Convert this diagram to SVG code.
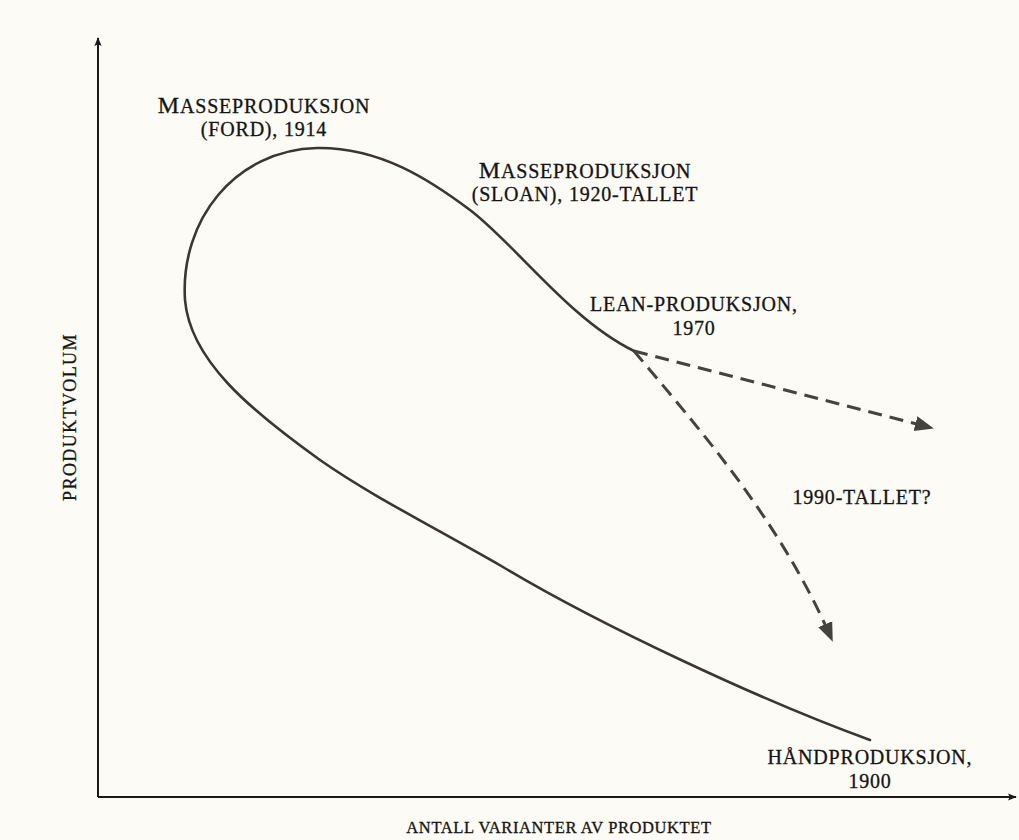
<svg xmlns="http://www.w3.org/2000/svg" width="1019" height="840" viewBox="0 0 1019 840">
  <defs>
    <marker id="axisHead" viewBox="0 0 10 10" refX="9" refY="5" markerWidth="9" markerHeight="9" markerUnits="userSpaceOnUse" orient="auto">
      <path d="M0,1 L10,5 L0,9 L2,5 Z" fill="#1a1a1a"/>
    </marker>
    <marker id="dashHead" viewBox="0 0 10 10" refX="9" refY="5" markerWidth="19" markerHeight="19" markerUnits="userSpaceOnUse" orient="auto">
      <path d="M0,1 L10,5 L0,9 Z" fill="#45433e"/>
    </marker>
    <style>
      .lbl { font-family: "Liberation Serif", "DejaVu Serif", serif; font-size: 20px; fill: #141414; text-anchor: middle; letter-spacing: 0.8px; stroke: #141414; stroke-width: 0.3px; }
      .cap { font-size: 24px; }
      .xl { font-size: 16.5px; letter-spacing: 0.6px; }
      .yl { font-size: 18px; letter-spacing: 1.4px; }
      .axis { stroke: #1a1a1a; stroke-width: 2; fill: none; }
      .curve { stroke: #3a3630; stroke-width: 2.6; fill: none; stroke-linecap: round; }
      .dash { stroke: #45433e; stroke-width: 3; fill: none; stroke-dasharray: 14 8; }
    </style>
  </defs>

  <rect width="1019" height="840" fill="#fcfbf5"/>

  <g id="axes">
    <line class="axis" x1="98" y1="797" x2="98" y2="38" marker-end="url(#axisHead)"/>
    <line class="axis" x1="98" y1="797" x2="1016" y2="797" marker-end="url(#axisHead)"/>
  </g>

  <g id="connectors">
    <!-- production loop: craft 1900 -> Ford -> Sloan -> lean -->
    <path id="loop" class="curve" d="M870,740 C760,700 600,625 503,567 C430,525 370,495 320,460 C250,410 190,360 185,300 C180,220 235,150 317,148 C380,147 430,180 470,210 C515,244 570,320 634,351"/>
    <path id="future-right" class="dash" d="M634,351 L932,428" marker-end="url(#dashHead)"/>
    <path id="future-down" class="dash" d="M634,351 C700,430 780,520 832,640" marker-end="url(#dashHead)"/>
  </g>

  <g id="label-ford">
    <text class="lbl" x="264" y="113"><tspan class="cap">M</tspan>ASSEPRODUKSJON</text>
    <text class="lbl" x="264" y="136">(FORD), 1914</text>
  </g>
  <g id="label-sloan">
    <text class="lbl" x="585" y="178"><tspan class="cap">M</tspan>ASSEPRODUKSJON</text>
    <text class="lbl" x="585" y="201">(SLOAN), 1920-TALLET</text>
  </g>
  <g id="label-lean">
    <text class="lbl" x="694" y="311">LEAN-PRODUKSJON,</text>
    <text class="lbl" x="694" y="335">1970</text>
  </g>
  <g id="label-1990">
    <text class="lbl" x="862" y="504">1990-TALLET?</text>
  </g>
  <g id="label-craft">
    <text class="lbl" x="870" y="764">HÅNDPRODUKSJON,</text>
    <text class="lbl" x="870" y="788">1900</text>
  </g>
  <g id="label-x">
    <text class="lbl xl" x="559" y="833">ANTALL VARIANTER AV PRODUKTET</text>
  </g>
  <g id="label-y">
    <text class="lbl yl" x="0" y="0" transform="translate(76,417) rotate(-90)">PRODUKTVOLUM</text>
  </g>
</svg>
